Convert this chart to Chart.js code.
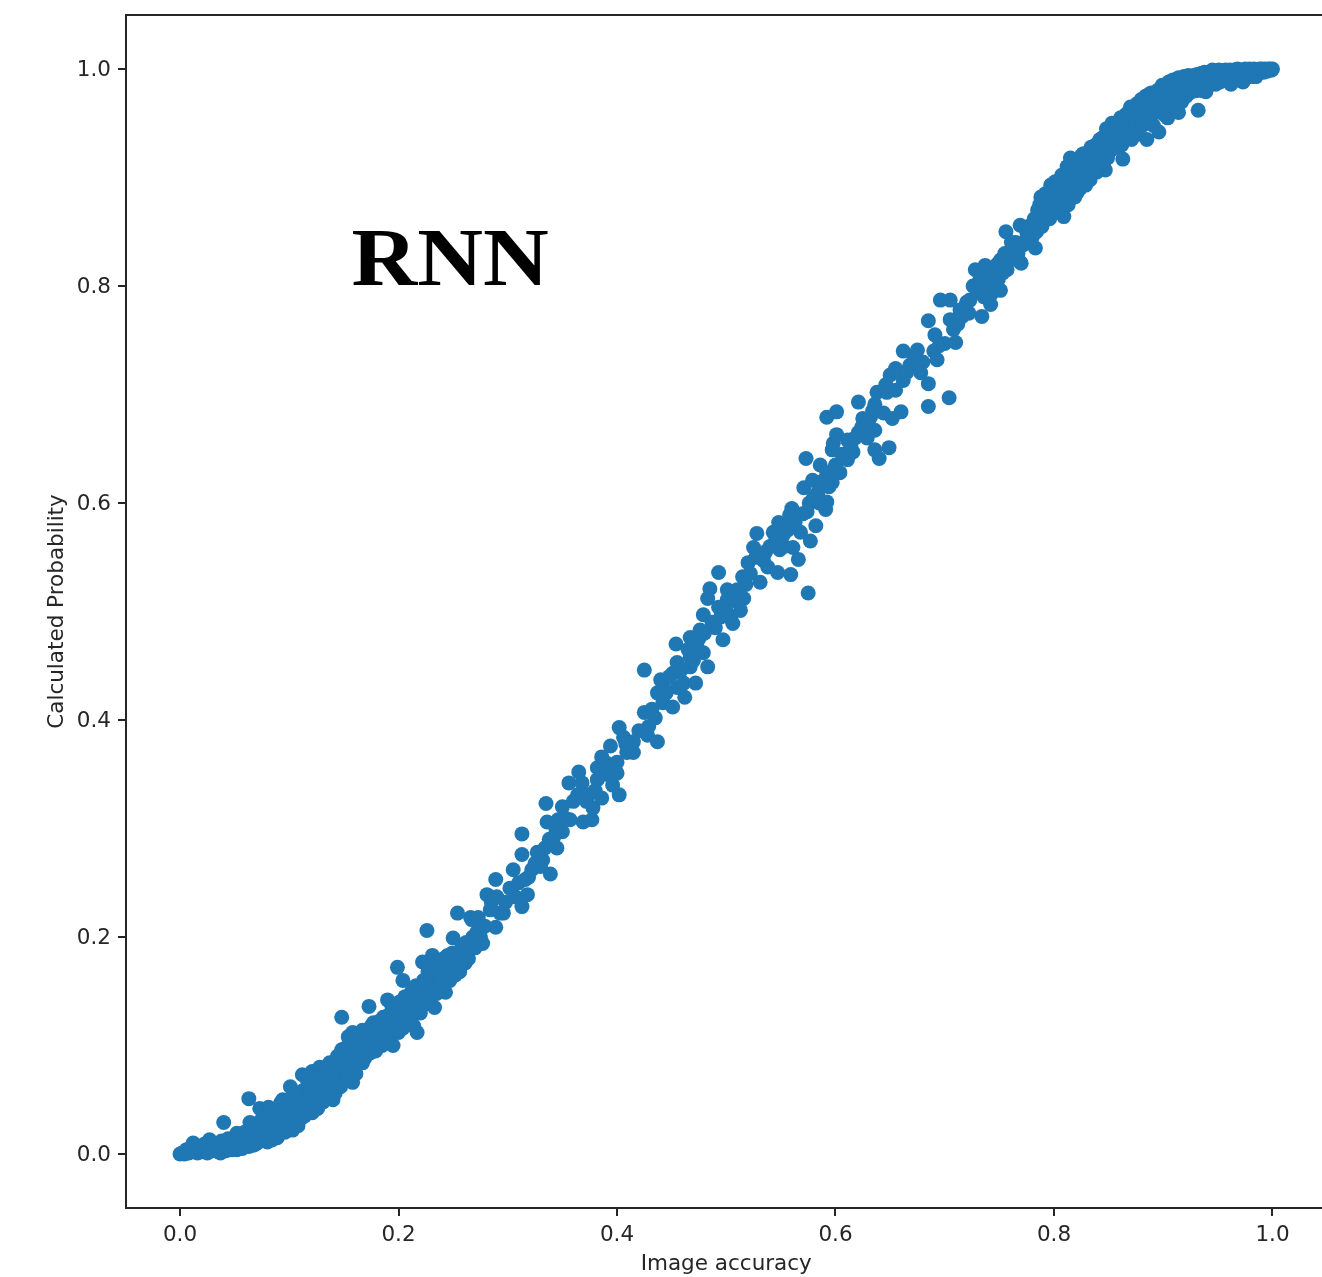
<!DOCTYPE html>
<html>
<head>
<meta charset="utf-8">
<title>RNN</title>
<script src="https://cdn.jsdelivr.net/npm/chart.js@4/dist/chart.umd.min.js"></script>
<style>
html, body { margin: 0; padding: 0; background: #fff; overflow: hidden; width: 1322px; height: 1277px; }
canvas { display: block; }
</style>
</head>
<body>
<canvas id="scatterChart" width="1334" height="1277"></canvas>
<script>
// values as [image accuracy, calculated probability]
var lowPoints = [
    [0,0],[.002,.001],[.004,0],[.006,.004],[.008,.001],[.01,.006],[.012,.002],[.012,.01],[.014,.008],[.016,.001],
    [.018,.005],[.02,.002],[.022,.009],[.025,.001],[.027,.013],[.028,.011],[.03,.003],[.032,.007],[.035,.002],[.037,.001],
    [.038,.012],[.04,.029],[.042,.003],[.045,.011],[.048,.004],[.05,.012],[.052,.004],[.052,.019],[.055,.007],[.058,.015],
    [.06,.009],[.062,.021],[.063,.051],[.064,.029],[.065,.012],[.067,.008],[.068,.026],[.07,.012],[.072,.029],[.073,.042],
    [.075,.018],[.078,.031],[.08,.011],[.081,.043],[.082,.038],[.085,.02],[.088,.036],[.089,.015],[.09,.018],[.092,.04],
    [.094,.05],[.095,.026],[.098,.044],[.101,.062],[.103,.022],[.105,.045],[.11,.038],[.112,.073],[.115,.055],[.12,.05],
    [.121,.076],[.121,.038],[.125,.062],[.128,.08],[.13,.055],[.135,.07],[.137,.084],[.14,.05],[.14,.066],[.145,.082],
    [.148,.096],[.148,.126],[.15,.07],[.155,.09],[.158,.112],[.158,.066],[.16,.08],[.165,.1],[.167,.114],[.167,.084],
    [.17,.092],[.173,.136],[.174,.093],[.177,.121],[.18,.105],[.185,.1],[.186,.126],[.19,.142],[.19,.118],[.195,.122],
    [.195,.1],[.199,.172],[.2,.112],[.204,.16],[.204,.116],[.205,.13],[.21,.125],[.215,.14],[.217,.112],[.22,.13],
    [.222,.177],[.225,.15],[.226,.206],[.23,.16],[.231,.183],[.233,.135],[.235,.148],[.24,.165],[.243,.149],[.245,.183],
    [.245,.17],[.25,.175],[.25,.199],[.252,.165],[.255,.18],[.26,.185],[.261,.176]
];
var lowFillPoints = [
    [.006,.001],[.01,.002],[.014,.003],[.017,.007],[.021,.005],[.024,.004],[.026,.009],[.029,.006],[.031,.01],[.033,.003],
    [.036,.008],[.039,.005],[.041,.01],[.043,.007],[.044,.014],[.046,.004],[.047,.009],[.049,.015],[.051,.007],[.053,.012],
    [.054,.017],[.056,.009],[.057,.005],[.059,.02],[.061,.014],[.063,.007],[.064,.018],[.066,.023],[.067,.014],[.069,.009],
    [.071,.02],[.072,.011],[.074,.025],[.075,.032],[.076,.014],[.077,.022],[.079,.027],[.08,.035],[.081,.017],[.083,.03],
    [.084,.013],[.086,.04],[.087,.025],[.088,.018],[.09,.032],[.091,.023],[.092,.047],[.093,.028],[.095,.036],[.096,.02],
    [.097,.04],[.099,.03],[.1,.025],[.1,.05],[.102,.036],[.104,.042],[.106,.03],[.107,.052],[.108,.026],[.109,.045],
    [.111,.033],[.112,.058],[.113,.042],[.114,.035],[.116,.05],[.117,.066],[.118,.04],[.119,.058],[.122,.046],[.123,.067],
    [.124,.054],[.126,.042],[.127,.072],[.129,.06],[.131,.048],[.132,.075],[.133,.063],[.134,.054],[.136,.078],[.138,.06],
    [.139,.072],[.141,.08],[.142,.056],[.143,.068],[.144,.09],[.146,.074],[.147,.062],[.149,.083],[.151,.078],[.152,.098],
    [.153,.072],[.154,.108],[.156,.082],[.157,.096],[.159,.104],[.161,.074],[.162,.092],[.163,.11],[.164,.086],[.166,.096],
    [.168,.104],[.169,.088],[.171,.11],[.172,.098],[.175,.118],[.176,.102],[.178,.112],[.179,.095],[.182,.122],[.183,.108],
    [.187,.115],[.188,.104],[.191,.128],[.192,.11],[.194,.136],[.197,.115],[.198,.13],[.201,.14],[.202,.12],[.206,.145],
    [.207,.122],[.208,.136],[.212,.15],[.213,.128],[.214,.118],[.216,.155],[.218,.132],[.221,.145],[.223,.16],[.224,.138],
    [.227,.168],[.228,.145],[.232,.172],[.234,.155],[.237,.175],[.238,.158],[.241,.18],[.242,.17],[.247,.16],[.249,.185],
    [.253,.172],[.256,.168],[.258,.19],[.262,.195],[.264,.18],[.268,.2],[.27,.19],[.272,.205],[.275,.2],[.279,.21]
];
var midPoints = [
    [.254,.222],[.266,.218],[.267,.216],[.273,.218],[.277,.194],[.281,.239],[.284,.225],[.289,.253],[.289,.209],[.29,.237],
    [.293,.222],[.296,.222],[.305,.262],[.307,.237],[.313,.295],[.313,.276],[.313,.228],[.316,.253],[.318,.239],[.319,.255],
    [.325,.268],[.327,.278],[.332,.271],[.334,.282],[.335,.323],[.336,.306],[.339,.258],[.342,.292],[.345,.282],[.346,.308],
    [.35,.32],[.35,.297],[.356,.342],[.357,.308],[.364,.331],[.365,.352],[.368,.342],[.369,.306],[.374,.331],[.377,.308],
    [.378,.319],[.382,.345],[.382,.356],[.386,.366],[.386,.328],[.391,.36],[.394,.376],[.396,.34],[.4,.351],[.4,.361],
    [.402,.393],[.402,.331],[.406,.384],[.409,.37],[.415,.37],[.415,.38],[.425,.446],[.425,.407],[.428,.386],[.429,.394],
    [.435,.402],[.437,.38],[.437,.425],[.44,.437],[.442,.416],[.442,.434],[.451,.412],[.451,.443],[.454,.47],[.455,.43],
    [.455,.453],[.461,.434],[.462,.421],[.467,.449],[.467,.458],[.467,.476],[.472,.434],[.473,.469],[.476,.483],[.479,.462],
    [.479,.497],[.483,.449],[.483,.512],[.485,.521],[.49,.485],[.493,.536],[.493,.504],[.497,.474],[.501,.52],[.501,.511],
    [.504,.494],[.506,.489],[.51,.52],[.513,.501],[.515,.532],[.516,.512],[.52,.545],[.525,.559],[.527,.55],[.528,.572],
    [.531,.527],[.534,.547],[.538,.541],[.543,.573],[.547,.536],[.548,.582],[.549,.557],[.553,.56],[.558,.589],[.559,.534],
    [.559,.578],[.56,.595],[.561,.559],[.566,.548],[.568,.573],[.571,.614],[.573,.641],[.574,.592],[.575,.517],[.577,.565],
    [.579,.621],[.582,.579],[.584,.61],[.586,.635],[.591,.594],[.592,.601],[.592,.628],[.592,.679],[.597,.619],[.597,.649],
    [.598,.655],[.601,.663],[.601,.684],[.604,.628],[.611,.64],[.611,.658],[.616,.647],[.621,.665],[.621,.693],[.625,.678]
];
var midFillPoints = [
    [.285,.232],[.298,.232],[.302,.245],[.31,.25],[.322,.262],[.33,.265],[.338,.29],[.344,.3],[.352,.31],[.36,.325],
    [.372,.325],[.38,.335],[.39,.35],[.398,.355],[.408,.378],[.42,.39],[.432,.41],[.445,.425],[.448,.44],[.458,.445],
    [.465,.465],[.47,.455],[.475,.475],[.48,.48],[.487,.49],[.495,.495],[.5,.5],[.508,.51],[.518,.525],[.522,.535],
    [.53,.55],[.536,.555],[.54,.56],[.545,.565],[.552,.57],[.556,.575],[.563,.582],[.57,.59],[.576,.6],[.58,.605],
    [.585,.6],[.588,.62],[.594,.615],[.6,.635],[.606,.645],[.614,.652],[.618,.66],[.624,.67],[.63,.672],[.634,.685]
];
var upperPoints = [
    [.629,.66],[.632,.679],[.636,.649],[.636,.667],[.636,.691],[.638,.702],[.64,.641],[.644,.683],[.646,.709],[.647,.702],
    [.649,.651],[.65,.718],[.652,.678],[.655,.704],[.655,.724],[.66,.684],[.662,.713],[.662,.74],[.668,.727],[.675,.741],
    [.68,.73],[.685,.689],[.685,.71],[.685,.768],[.69,.74],[.691,.755],[.693,.732],[.696,.787],[.7,.747],[.704,.697],
    [.705,.769],[.705,.787],[.71,.748],[.714,.778],[.72,.785],[.723,.787],[.728,.815],[.73,.795],[.734,.772],[.737,.819],
    [.74,.8],[.742,.783],[.742,.792],[.746,.806],[.749,.806],[.751,.824],[.751,.796],[.755,.83],[.756,.85],[.76,.829],
    [.765,.84],[.769,.822],[.769,.856],[.77,.821],[.775,.85],[.778,.847],[.783,.835],[.785,.87],[.788,.861],[.788,.882],
    [.79,.865],[.795,.875],[.797,.893],[.801,.875],[.801,.896],[.805,.885],[.809,.864],[.812,.91],[.815,.918],[.818,.9],
    [.821,.886],[.825,.92],[.828,.905],[.833,.898],[.835,.92],[.84,.915],[.845,.937],[.847,.907],[.85,.93],[.853,.95],
    [.858,.935],[.863,.917],[.865,.945],[.868,.96],[.872,.945],[.878,.965],[.885,.935],[.886,.976],[.89,.96],[.896,.981],
    [.896,.942],[.9,.97],[.904,.955],[.907,.987],[.91,.975],[.914,.96],[.914,.992],[.92,.985],[.928,.994],[.93,.98],
    [.932,.962],[.939,.979],[.94,.99],[.945,.999],[.95,.992],[.955,.998],[.962,.986],[.965,.999],[.973,.988],[.975,1],
    [.98,.996],[.985,.993],[.99,1],[.995,.998],[1,1]
];
var upperFillPoints = [
    [.665,.72],[.672,.735],[.678,.72],[.695,.745],[.708,.76],[.712,.765],[.716,.772],[.722,.775],[.726,.8],[.732,.805],
    [.736,.79],[.739,.81],[.744,.815],[.748,.82],[.753,.812],[.757,.815],[.761,.84],[.763,.825],[.767,.83],[.772,.838],
    [.774,.842],[.777,.855],[.78,.845],[.782,.862],[.784,.85],[.787,.875],[.789,.855],[.792,.885],[.793,.87],[.796,.862],
    [.798,.882],[.8,.888],[.802,.868],[.804,.895],[.806,.876],[.807,.902],[.81,.885],[.811,.893],[.813,.875],[.814,.905],
    [.816,.895],[.817,.91],[.819,.882],[.82,.912],[.822,.9],[.824,.89],[.826,.91],[.827,.922],[.829,.893],[.83,.915],
    [.832,.902],[.834,.928],[.836,.91],[.838,.93],[.839,.905],[.841,.925],[.842,.935],[.844,.915],[.846,.928],[.848,.945],
    [.849,.918],[.851,.938],[.852,.925],[.854,.94],[.856,.928],[.857,.95],[.859,.942],[.861,.955],[.862,.93],[.864,.938],
    [.866,.958],[.867,.94],[.869,.95],[.87,.965],[.871,.935],[.873,.96],[.875,.95],[.876,.968],[.877,.94],[.879,.955],
    [.88,.972],[.881,.948],[.883,.965],[.884,.975],[.887,.955],[.888,.968],[.889,.978],[.891,.948],[.892,.972],[.893,.96],
    [.895,.98],[.897,.965],[.898,.972],[.899,.985],[.901,.958],[.902,.98],[.903,.97],[.905,.988],[.906,.965],[.908,.978],
    [.909,.99],[.911,.968],[.912,.985],[.913,.975],[.915,.98],[.916,.99],[.917,.97],[.918,.982],[.919,.993],[.921,.975],
    [.922,.988],[.923,.994],[.924,.978],[.925,.985],[.926,.992],[.927,.98],[.929,.988],[.931,.995],[.933,.985],[.934,.99],
    [.935,.996],[.936,.98],[.937,.992],[.938,.997],[.941,.984],[.942,.993],[.943,.997],[.944,.988],[.946,.994],[.947,.998],
    [.948,.986],[.949,.996],[.951,.999],[.952,.988],[.953,.996],[.954,.99],[.956,.995],[.957,.999],[.958,.99],[.959,.997],
    [.96,.992],[.961,.999],[.963,.995],[.964,.991],[.966,.997],[.967,.993],[.968,1],[.969,.996],[.97,.99],[.971,.999],
    [.972,.995],[.974,.998],[.976,.992],[.977,.999],[.978,.995],[.979,1],[.981,.998],[.982,.993],[.983,1],[.984,.997],
    [.986,.999],[.987,.996],[.988,1],[.989,.998],[.991,.999],[.992,.997],[.993,1],[.994,.999],[.996,1],[.997,.999],[.998,1],[.999,.999]
];
var xTickValues = [0, 0.2, 0.4, 0.6, 0.8, 1];
var yTickValues = [0, 0.2, 0.4, 0.6, 0.8, 1];
var xLabel = 'Image accuracy';
var yLabel = 'Calculated Probability';
var plotLabel = 'RNN';

var allPoints = lowPoints.concat(lowFillPoints, midPoints, midFillPoints, upperPoints, upperFillPoints).map(function(p) {
    return { x: p[0], y: p[1] };
});

var tickFont = { family: '"DejaVu Sans"', size: 21.5 };
var axisColor = '#262626';

// the axes would otherwise reserve room for half a tick label on each end
function dropLabelPadding(axis) {
    axis.paddingTop = 0;
    axis.paddingBottom = 0;
    axis.paddingLeft = 0;
    axis.paddingRight = 0;
}

// top and right spines, and the text inside the plot
var framePlugin = {
    id: 'frame',
    afterDraw: function(chart) {
        var ctx = chart.ctx, a = chart.chartArea;
        ctx.save();
        ctx.strokeStyle = axisColor;
        ctx.lineWidth = 2;
        ctx.strokeRect(a.left, a.top, a.right - a.left, a.bottom - a.top);
        ctx.fillStyle = '#000';
        ctx.font = 'bold 82px "Liberation Serif"';
        ctx.textBaseline = 'alphabetic';
        ctx.translate(chart.scales.x.getPixelForValue(0.157), chart.scales.y.getPixelForValue(0.801));
        ctx.scale(1.11, 1);
        ctx.fillText(plotLabel, 0, 0);
        ctx.restore();
    }
};

var ctxScatter = document.getElementById('scatterChart').getContext('2d');
var scatterChart = new Chart(ctxScatter, {
    type: 'scatter',
    data: {
        datasets: [{
            data: allPoints,
            backgroundColor: '#1f77b4',
            borderWidth: 0,
            pointRadius: 7.5,
            pointHoverRadius: 7.5
        }]
    },
    options: {
        responsive: false,
        animation: false,
        layout: { padding: { top: 15, right: 4 } },
        plugins: {
            legend: { display: false },
            tooltip: { enabled: false }
        },
        scales: {
            x: {
                min: -0.04945,
                max: 1.04945,
                afterBuildTicks: function(axis) {
                    axis.ticks = xTickValues.map(function(v) { return { value: v }; });
                },
                afterFit: function(axis) { axis.height = 69; dropLabelPadding(axis); },
                grid: { drawOnChartArea: false, color: axisColor, lineWidth: 2, tickLength: 8 },
                border: { color: axisColor, width: 2 },
                ticks: {
                    color: axisColor,
                    font: tickFont,
                    padding: 7,
                    maxRotation: 0,
                    autoSkip: false,
                    callback: function(v) { return Number(v).toFixed(1); }
                },
                title: { display: true, text: xLabel, color: axisColor, font: tickFont, padding: { top: 2, bottom: 0 } }
            },
            y: {
                min: -0.0498,
                max: 1.0498,
                afterBuildTicks: function(axis) {
                    axis.ticks = yTickValues.map(function(v) { return { value: v }; });
                },
                afterFit: function(axis) { axis.width = 126; dropLabelPadding(axis); },
                grid: { drawOnChartArea: false, color: axisColor, lineWidth: 2, tickLength: 8 },
                border: { color: axisColor, width: 2 },
                ticks: {
                    color: axisColor,
                    font: tickFont,
                    padding: 7,
                    labelOffset: 1,
                    autoSkip: false,
                    callback: function(v) { return Number(v).toFixed(1); }
                },
                title: { display: true, text: yLabel, color: axisColor, font: tickFont, padding: { top: 45, bottom: 0 } }
            }
        }
    },
    plugins: [framePlugin]
});
</script>
</body>
</html>
